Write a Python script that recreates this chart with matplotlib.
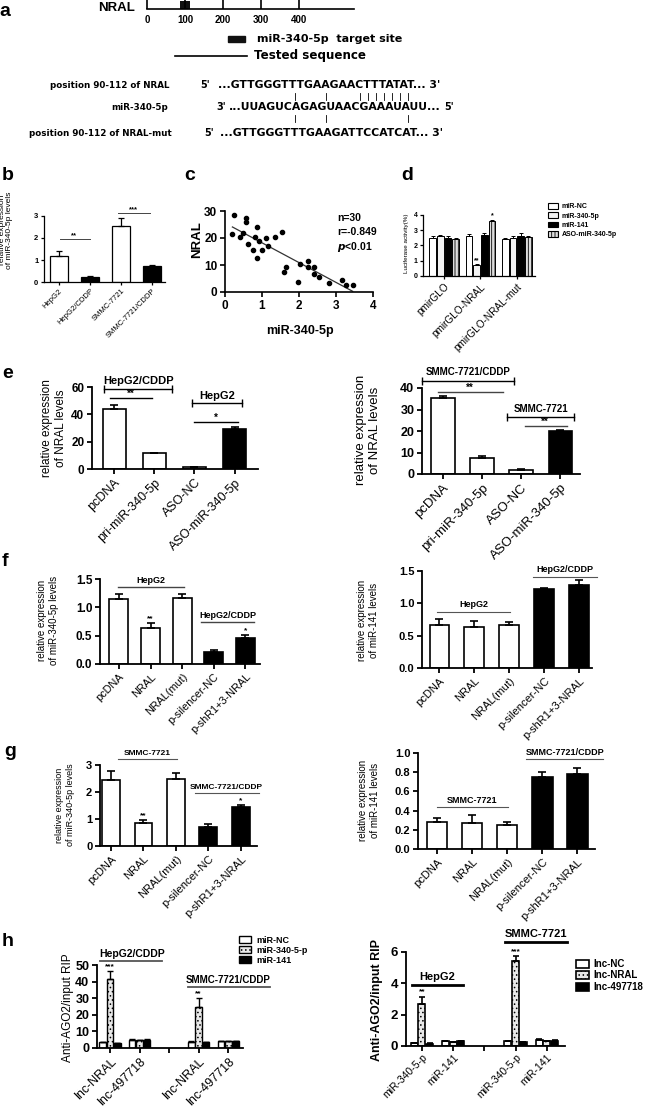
import numpy as np
import matplotlib.pyplot as plt
from matplotlib.lines import Line2D
from matplotlib.patches import Patch

plt.rcParams['font.family'] = ['Liberation Sans', 'DejaVu Sans']
plt.rcParams['hatch.linewidth'] = 0.6

# ---------------- data ----------------
# a: NRAL map and sequences
nral_ticks = [0, 100, 200, 300, 400]
nral_length = 545
site = (87, 113)
seq_labels = ['position 90-112 of NRAL', 'miR-340-5p', 'position 90-112 of NRAL-mut']
seq_left = ["5'", "3'", "5'"]
seq_body = ["...GTTGGGTTTGAAGAACTTTATAT... 3'",
            "...UUAGUCAGAGUAACGAAAUAUU...",
            "...GTTGGGTTTGAAGATTCCATCAT... 3'"]
pairs_top = [295, 326, 360, 368, 376, 384, 392, 400, 408]
pairs_bot = [295, 326, 408]

# b
b_cats = ['HepG2', 'HepG2/CDDP', 'SMMC-7721', 'SMMC-7721/CDDP']
b_vals = [1.2, 0.25, 2.55, 0.72]
b_err = [0.22, 0.03, 0.38, 0.07]

# c
c_mir = [0.23, 0.2, 0.4, 0.48, 0.56, 0.57, 0.61, 0.77, 0.86, 0.81, 0.93, 0.87, 0.99, 1.1, 1.17,
         1.35, 1.55, 1.65, 2.03, 2.23, 2.23, 2.4, 1.6, 1.98, 2.4, 2.55, 3.15, 3.27, 3.45, 2.8]
c_nral = [28.5, 21.5, 20.2, 22.0, 27.5, 26.0, 17.7, 15.5, 24.0, 20.2, 18.9, 12.5, 15.5, 20.1, 17.0,
          20.2, 22.3, 9.1, 10.4, 11.5, 9.4, 9.4, 7.3, 3.6, 6.5, 5.4, 4.4, 2.6, 2.6, 3.5]

# d
d_groups = ['pmirGLO', 'pmirGLO-NRAL', 'pmirGLO-NRAL-mut']
d_series = ['miR-NC', 'miR-340-5p', 'miR-141', 'ASO-miR-340-5p']
d_vals = [[2.5, 2.6, 2.4], [2.6, 0.7, 2.5], [2.5, 2.7, 2.65], [2.45, 3.6, 2.55]]
d_err = [[0.15, 0.15, 0.08], [0.12, 0.1, 0.15], [0.15, 0.15, 0.17], [0.06, 0.1, 0.1]]

# e
e_cats = ['pcDNA', 'pri-miR-340-5p', 'ASO-NC', 'ASO-miR-340-5p']
e1_vals = [44, 11.5, 1.5, 29.5]
e1_err = [2.8, 0.5, 0.3, 1.0]
e2_vals = [35.5, 7.5, 1.8, 19.8]
e2_err = [0.6, 0.9, 0.3, 0.8]

# f, g
fg_cats = ['pcDNA', 'NRAL', 'NRAL(mut)', 'p-silencer-NC', 'p-shR1+3-NRAL']
f1_vals = [1.15, 0.64, 1.16, 0.21, 0.46]
f1_err = [0.08, 0.08, 0.08, 0.03, 0.06]
f2_vals = [0.67, 0.64, 0.67, 1.22, 1.28]
f2_err = [0.09, 0.09, 0.04, 0.02, 0.08]
g1_vals = [2.45, 0.85, 2.48, 0.72, 1.45]
g1_err = [0.33, 0.12, 0.22, 0.09, 0.06]
g2_vals = [0.28, 0.27, 0.25, 0.75, 0.78]
g2_err = [0.045, 0.08, 0.035, 0.05, 0.06]

# h
h1_cats = ['lnc-NRAL', 'lnc-497718', '', 'lnc-NRAL', 'lnc-497718']
h1_series = ['miR-NC', 'miR-340-5-p', 'miR-141']
h1_vals = [[3.5, 5.0, 3.7, 4.2], [41.5, 4.8, 25.0, 4.0], [3.0, 5.0, 3.5, 4.2]]
h1_err = [[0.3, 0.3, 0.3, 0.3], [5.0, 0.3, 5.0, 0.3], [0.3, 0.3, 0.3, 0.3]]
h2_cats = ['miR-340-5-p', 'miR-141', '', 'miR-340-5-p', 'miR-141']
h2_series = ['lnc-NC', 'lnc-NRAL', 'lnc-497718']
h2_vals = [[0.2, 0.3, 0.3, 0.4], [2.65, 0.25, 5.45, 0.3], [0.15, 0.3, 0.25, 0.35]]
h2_err = [[0.02, 0.02, 0.02, 0.02], [0.5, 0.02, 0.3, 0.02], [0.02, 0.02, 0.02, 0.02]]
h_pos = [0, 1, 3, 4]

W, H = 652, 1106
fig = plt.figure(figsize=(W / 100, H / 100), dpi=100)


def px_axes(x0, y0, x1, y1):
    return fig.add_axes([x0 / W, 1 - y1 / H, (x1 - x0) / W, (y1 - y0) / H])


def ftext(x, y, s, **kw):
    fig.text(x / W, 1 - y / H, s, **kw)


def fline(xs, ys, **kw):
    fig.add_artist(Line2D([x / W for x in xs], [1 - y / H for y in ys], color='black', **kw))


def style(ax, fs, lw=1.3):
    for s in ('top', 'right'):
        ax.spines[s].set_visible(False)
    for s in ('left', 'bottom'):
        ax.spines[s].set_linewidth(lw)
    ax.tick_params(width=lw, length=3.5, pad=2)
    ax.tick_params(axis='y', labelsize=fs)
    for t in ax.get_yticklabels():
        t.set_fontweight('bold')


def bars(ax, vals, errs, colors, width, lw=1.2, cap=3):
    x = np.arange(len(vals))
    ax.bar(x, vals, width, color=colors, edgecolor='black', linewidth=lw)
    ax.errorbar(x, vals, yerr=[np.zeros(len(errs)), errs], fmt='none', ecolor='black',
                elinewidth=lw, capsize=cap, capthick=lw)
    return x


def sig(ax, x0, x1, y, color='black', lw=1.0, caps=False):
    ax.plot([x0, x1], [y, y], color=color, lw=lw, clip_on=False,
            marker='|' if caps else None, ms=6, mew=lw)


def note(ax, x, y, s, fs, va='bottom'):
    ax.text(x, y, s, ha='center', va=va, fontsize=fs, fontweight='bold', clip_on=False)


def xlabels(ax, labels, fs):
    ax.set_xticks(range(len(labels)))
    ax.set_xticklabels(labels, rotation=45, ha='right', rotation_mode='anchor', fontsize=fs)


# ---------------- panel a ----------------
ax = px_axes(147, 1, 354, 9)
ax.bar([(site[0] + site[1]) / 2], [1], site[1] - site[0], color='#111111')
ax.set_xlim(0, nral_length)
ax.set_ylim(0, 1)
for s in ('top', 'right', 'left'):
    ax.spines[s].set_visible(False)
ax.spines['bottom'].set_linewidth(1.2)
ax.set_yticks([])
ax.set_xticks(nral_ticks)
ax.tick_params(axis='x', direction='in', length=8, width=1.2, labelsize=7, pad=4)
for t in ax.get_xticklabels():
    t.set_fontweight('bold')
ftext(135, 8, 'NRAL', fontsize=9.5, fontweight='bold', ha='right', va='center')
fig.add_artist(plt.Rectangle((228 / W, 1 - 42 / H), 17 / W, 6 / H, color='#111111'))
ftext(257, 39, 'miR-340-5p  target site', fontsize=8, fontweight='bold', va='center',
      family='DejaVu Sans')
fline([175, 247], [56, 56], lw=1.2)
ftext(254, 55, 'Tested sequence', fontsize=8.6, fontweight='bold', va='center', family='DejaVu Sans')
seq_y = [85, 107, 133]
for i in range(3):
    y = seq_y[i]
    ftext([170, 168, 172][i], y, seq_labels[i], fontsize=6.3, fontweight='bold', ha='right',
          va='center', family='DejaVu Sans')
    ftext([200, 216, 204][i], y, seq_left[i], fontsize=7, fontweight='bold', va='center',
          family='DejaVu Sans')
    ftext([218, 229, 220][i], y, seq_body[i], fontsize=7.8, fontweight='bold', va='center',
          family='DejaVu Sans')
ftext(444, seq_y[1], "5'", fontsize=7, fontweight='bold', va='center', family='DejaVu Sans')
for x in pairs_top:
    fline([x, x], [93, 100], lw=0.6)
for x in pairs_bot:
    fline([x, x], [115, 122], lw=0.6)

# ---------------- panel b ----------------
ax = px_axes(44, 216, 165, 282)
x = bars(ax, b_vals, b_err, ['white', 'black', 'white', 'black'], 0.58, lw=0.9, cap=2)
ax.set_xlim(-0.48, 3.42)
ax.set_ylim(0, 3)
ax.set_yticks([0, 1, 2, 3])
xlabels(ax, b_cats, 5.5)
style(ax, 5.5, lw=0.9)
ax.tick_params(length=2)
sig(ax, 0.03, 1.0, 1.95, color='#444444', lw=0.7)
note(ax, 0.5, 1.95, '**', 5.5)
sig(ax, 1.9, 2.94, 3.14, color='#444444', lw=0.7)
note(ax, 2.42, 3.14, '***', 5.5)
ftext(6, 230, 'relative expression\nof miR-340-5p levels', fontsize=6, rotation=90,
      ha='center', va='center', linespacing=1.05)

# ---------------- panel c ----------------
ax = px_axes(225, 211, 373, 292)
ax.scatter(c_mir, c_nral, s=9, color='black', zorder=3)
k, b0 = np.polyfit(c_mir, c_nral, 1)
xx = np.array([min(c_mir), max(c_mir)])
ax.plot(xx, k * xx + b0, color='#333333', lw=0.9)
ax.set_xlim(0, 4)
ax.set_ylim(0, 30)
ax.set_xticks([0, 1, 2, 3, 4])
ax.set_yticks([0, 10, 20, 30])
style(ax, 8.5, lw=1.2)
ax.tick_params(axis='x', labelsize=8.5)
for t in ax.get_xticklabels():
    t.set_fontweight('bold')
ftext(300, 331, 'miR-340-5p', fontsize=9, fontweight='bold', ha='center', va='center')
ftext(197, 240, 'NRAL', fontsize=9.5, fontweight='bold', rotation=90, ha='center', va='center')
ftext(337, 218, 'n=30', fontsize=7.5, fontweight='bold', va='center')
ftext(337, 232, 'r=-0.849', fontsize=7.5, fontweight='bold', va='center')
ftext(337, 247, r'$\mathbfit{p}$<0.01', fontsize=7.5, fontweight='bold', va='center')

# ---------------- panel d ----------------
ax = px_axes(423, 215, 535, 276)
d_colors = ['white', '#f2f2f2', 'black', '#dddddd']
d_hatch = [None, None, None, '|||||']
gx = np.arange(len(d_groups))
bw = 0.21
for j in range(len(d_series)):
    xs = gx + (j - 1.5) * bw
    ax.bar(xs, d_vals[j], bw * 0.85, color=d_colors[j], edgecolor='black', linewidth=0.7,
           hatch=d_hatch[j])
    ax.errorbar(xs, d_vals[j], yerr=[np.zeros(3), d_err[j]], fmt='none', ecolor='black',
                elinewidth=0.7, capsize=1.5, capthick=0.7)
ax.set_xlim(-0.58, 2.5)
ax.set_ylim(0, 4)
ax.set_yticks([0, 1, 2, 3, 4])
xlabels(ax, d_groups, 7.2)
style(ax, 5, lw=0.9)
ax.tick_params(length=2)
note(ax, 1 - 0.5 * bw, 0.8, '**', 5)
note(ax, 1 + 1.5 * bw, 3.72, '*', 5)
ftext(407, 243, 'Luciferase activity(%)', fontsize=4.5, rotation=90, ha='center', va='center')
fig.legend([Patch(facecolor=c, edgecolor='black', hatch=h, lw=0.8) for c, h in zip(d_colors, d_hatch)],
           d_series, loc='upper left', bbox_to_anchor=(548 / W, 1 - 203 / H), frameon=False,
           prop={'size': 5, 'weight': 'bold'}, handlelength=1.4, handleheight=0.9,
           labelspacing=0.3, handletextpad=0.6, borderpad=0, borderaxespad=0)

# ---------------- panel e ----------------
ax = px_axes(92, 387, 258, 469)
bars(ax, e1_vals, e1_err, ['white', 'white', 'white', 'black'], 0.57)
ax.set_xlim(-0.55, 3.58)
ax.set_ylim(0, 60)
ax.set_yticks([0, 20, 40, 60])
xlabels(ax, e_cats, 9)
style(ax, 8.5)
sig(ax, -0.25, 1.44, 58.5, caps=True)
note(ax, 0.6, 60.5, 'HepG2/CDDP', 8)
sig(ax, -0.1, 0.95, 52)
note(ax, 0.42, 51.5, '**', 7)
sig(ax, 1.94, 3.18, 48, caps=True)
note(ax, 2.56, 50, 'HepG2', 8)
sig(ax, 2.0, 3.08, 34.4)
note(ax, 2.54, 34, '*', 7)
ftext(54, 428, 'relative expression\nof NRAL levels', fontsize=8.5, rotation=90,
      ha='center', va='center')

ax = px_axes(422, 388, 580, 474)
bars(ax, e2_vals, e2_err, ['white', 'white', 'white', 'black'], 0.6)
ax.set_xlim(-0.53, 3.5)
ax.set_ylim(0, 40)
ax.set_yticks([0, 10, 20, 30, 40])
xlabels(ax, e_cats, 9.5)
style(ax, 9)
sig(ax, -0.53, 1.81, 43.3, caps=True)
note(ax, 0.64, 45, 'SMMC-7721/CDDP', 7)
sig(ax, -0.12, 1.53, 38.1, color='#444444')
note(ax, 0.7, 37.6, '**', 7)
sig(ax, 1.65, 3.35, 26.5, caps=True)
note(ax, 2.5, 28, 'SMMC-7721', 7)
sig(ax, 2.09, 3.17, 22.3, color='#444444')
note(ax, 2.6, 21.8, '**', 7)
ftext(368, 430, 'relative expression\nof NRAL levels', fontsize=9.5, rotation=90,
      ha='center', va='center')

# ---------------- panel f ----------------
wb = ['white'] * 3 + ['black'] * 2
ax = px_axes(100, 579, 260, 664)
bars(ax, f1_vals, f1_err, wb, 0.6)
ax.set_xlim(-0.6, 4.46)
ax.set_ylim(0, 1.5)
ax.set_yticks([0, 0.5, 1.0, 1.5])
xlabels(ax, fg_cats, 7.8)
style(ax, 8.5)
sig(ax, -0.03, 2.06, 1.36, color='#444444')
note(ax, 1.0, 1.4, 'HepG2', 6.5)
sig(ax, 2.6, 4.27, 0.74, color='#444444')
note(ax, 3.45, 0.78, 'HepG2/CDDP', 6.5)
note(ax, 1, 0.74, '**', 6)
note(ax, 4, 0.53, '*', 6)
ftext(48, 620, 'relative expression\nof miR-340-5p levels', fontsize=7, rotation=90,
      ha='center', va='center')

ax = px_axes(422, 571, 592, 668)
bars(ax, f2_vals, f2_err, wb, 0.57)
ax.set_xlim(-0.5, 4.37)
ax.set_ylim(0, 1.5)
ax.set_yticks([0, 0.5, 1.0, 1.5])
xlabels(ax, fg_cats, 8)
style(ax, 8)
sig(ax, -0.07, 2.02, 0.87, color='#555555', lw=0.8)
note(ax, 1.0, 0.91, 'HepG2', 6.5)
sig(ax, 2.68, 4.51, 1.41, color='#555555', lw=0.8)
note(ax, 3.6, 1.46, 'HepG2/CDDP', 6.5)
ftext(368, 620, 'relative expression\nof miR-141 levels', fontsize=7, rotation=90,
      ha='center', va='center')

# ---------------- panel g ----------------
ax = px_axes(100, 765, 257, 846)
bars(ax, g1_vals, g1_err, wb, 0.55)
ax.set_xlim(-0.34, 4.5)
ax.set_ylim(0, 3)
ax.set_yticks([0, 1, 2, 3])
xlabels(ax, fg_cats, 8)
style(ax, 8)
sig(ax, 0.22, 2.04, 3.22, color='#555555', lw=0.8)
note(ax, 1.13, 3.3, 'SMMC-7721', 6)
sig(ax, 2.6, 4.55, 1.96, color='#555555', lw=0.8)
note(ax, 3.55, 2.03, 'SMMC-7721/CDDP', 6)
note(ax, 1, 1.0, '**', 6)
note(ax, 4, 1.55, '*', 6)
ftext(65, 805, 'relative expression\nof miR-340-5p levels', fontsize=6.5, rotation=90,
      ha='center', va='center')

ax = px_axes(418, 753, 595, 849)
bars(ax, g2_vals, g2_err, wb, 0.58)
ax.set_xlim(-0.54, 4.5)
ax.set_ylim(0, 1.0)
ax.set_yticks([0, 0.2, 0.4, 0.6, 0.8, 1.0])
xlabels(ax, fg_cats, 8)
style(ax, 8)
sig(ax, 0.0, 2.03, 0.44, color='#555555', lw=0.8)
note(ax, 1.0, 0.46, 'SMMC-7721', 6.5)
sig(ax, 2.54, 4.74, 0.94, color='#555555', lw=0.8)
note(ax, 3.64, 0.96, 'SMMC-7721/CDDP', 6.5)
ftext(369, 800, 'relative expression\nof miR-141 levels', fontsize=7, rotation=90,
      ha='center', va='center')

# ---------------- panel h ----------------
h_colors = ['white', '#e8e8e8', 'black']
h_hatch = [None, '....', None]


def grouped(ax, vals, errs, width=0.25, lw=1.0):
    pos = np.array(h_pos)
    for j in range(3):
        xs = pos + (j - 1) * width
        ax.bar(xs, vals[j], width * 0.9, color=h_colors[j], edgecolor='black', linewidth=lw,
               hatch=h_hatch[j])
        ax.errorbar(xs, vals[j], yerr=[np.zeros(len(errs[j])), errs[j]], fmt='none',
                    ecolor='black', elinewidth=lw, capsize=2, capthick=lw)


ax = px_axes(97, 965, 243, 1048)
grouped(ax, h1_vals, h1_err)
ax.set_xlim(-0.44, 4.5)
ax.set_ylim(0, 50)
ax.set_yticks([0, 10, 20, 30, 40, 50])
xlabels(ax, h1_cats, 9)
style(ax, 9)
sig(ax, -0.34, 1.76, 52.4, color='#555555', lw=1.3)
note(ax, 0.75, 53.5, 'HepG2/CDDP', 7.5)
sig(ax, 2.64, 5.42, 36.7, color='#555555', lw=1.3)
note(ax, 4.0, 38, 'SMMC-7721/CDDP', 7)
note(ax, 0, 47, '***', 6)
note(ax, 3, 30.5, '**', 6)
ftext(68, 1008, 'Anti-AGO2/input RIP', fontsize=8.5, rotation=90, ha='center', va='center')
fig.legend([Patch(facecolor=c, edgecolor='black', hatch=h, lw=1) for c, h in zip(h_colors, h_hatch)],
           h1_series, loc='upper left', bbox_to_anchor=(239 / W, 1 - 936 / H), frameon=False,
           prop={'size': 6.5, 'weight': 'bold'}, handlelength=1.3, handleheight=0.8,
           labelspacing=0.1, handletextpad=0.6, borderpad=0, borderaxespad=0)

ax = px_axes(406, 952, 565, 1046)
grouped(ax, h2_vals, h2_err, lw=1.2)
ax.set_xlim(-0.51, 4.58)
ax.set_ylim(0, 6)
ax.set_yticks([0, 2, 4, 6])
xlabels(ax, h2_cats, 7.5)
style(ax, 9.5)
ax.tick_params(axis='x', pad=1)
sig(ax, -0.32, 1.31, 3.9, lw=2)
note(ax, 0.5, 4.1, 'HepG2', 8)
sig(ax, 2.66, 4.65, 6.64, lw=2)
note(ax, 3.65, 6.8, 'SMMC-7721', 8)
note(ax, 0, 3.25, '**', 6)
note(ax, 3, 5.8, '***', 6)
ftext(377, 1000, 'Anti-AGO2/input RIP', fontsize=9, fontweight='bold', rotation=90,
      ha='center', va='center')
fig.legend([Patch(facecolor=c, edgecolor='black', hatch=h, lw=1.2) for c, h in zip(h_colors, h_hatch)],
           h2_series, loc='upper left', bbox_to_anchor=(576 / W, 1 - 959 / H), frameon=False,
           prop={'size': 7, 'weight': 'bold'}, handlelength=1.3, handleheight=0.9,
           labelspacing=0.15, handletextpad=0.5, borderpad=0, borderaxespad=0)

# panel letters
for lab, (x, y) in zip('abcdefgh', [(5, 12), (8, 175), (190, 175), (407, 175), (8, 373),
                                     (5, 562), (10, 752), (8, 942)]):
    ftext(x, y, lab, fontsize=14, fontweight='bold', ha='center', va='center')

fig.savefig('out.png', dpi=100)
